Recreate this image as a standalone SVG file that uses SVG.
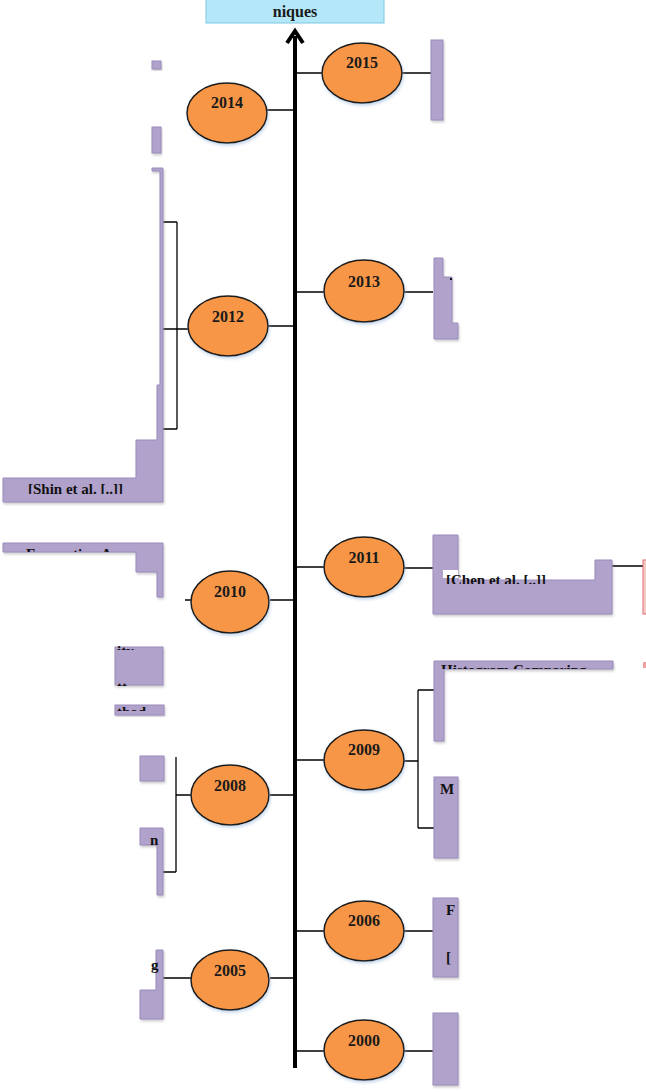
<svg xmlns="http://www.w3.org/2000/svg" width="646" height="1092" viewBox="0 0 646 1092">
<style>
.yr{fill:#f79646;stroke:#1a1a1a;stroke-width:1.5}
.yt{font-family:"Liberation Serif",serif;font-weight:bold;font-size:16px;fill:#1a1a1a;text-anchor:middle}
.pb{fill:#b1a2cb;stroke:#9a8cbc;stroke-width:1}
.ln{stroke:#000;stroke-width:1.3;fill:none}
.ft{font-family:"Liberation Serif",serif;font-weight:bold;font-size:15px;fill:#111}
</style>
<defs>
<filter id="sh" x="-20%" y="-20%" width="140%" height="140%">
<feDropShadow dx="1" dy="2" stdDeviation="1.5" flood-color="#8fb0d8" flood-opacity="0.5"/>
</filter>
<filter id="sp" x="-20%" y="-20%" width="140%" height="140%">
<feDropShadow dx="1" dy="2" stdDeviation="1.2" flood-color="#888" flood-opacity="0.4"/>
</filter>
<clipPath id="c1"><rect x="0" y="543" width="170" height="9"/></clipPath>
<clipPath id="c2"><rect x="430" y="661" width="190" height="8"/></clipPath>
<clipPath id="c3"><rect x="440" y="570" width="160" height="14"/></clipPath>
<clipPath id="c4"><rect x="0" y="484" width="170" height="10"/></clipPath>
<clipPath id="c5"><rect x="100" y="640" width="70" height="10"/><rect x="100" y="680" width="70" height="6"/><rect x="100" y="705" width="70" height="6"/></clipPath>
</defs>

<g id="title">
<rect x="206" y="-4" width="178" height="27" fill="#b4e8f8" stroke="#7fc7e2" stroke-width="1"/>
<text x="295" y="17" class="yt" font-size="17">niques</text>
</g>

<g id="connectors">
<line x1="295" y1="36" x2="295" y2="1068" stroke="#000" stroke-width="4"/>
<polyline points="287,43 295,31 303,43" fill="none" stroke="#000" stroke-width="4"/>
<path class="ln" d="M295,110H267 M295,73H323 M402,73H431"/>
<path class="ln" d="M295,292H324 M404,292H433"/>
<path class="ln" d="M295,326H268 M189,329H162 M177,222V429 M162,222H177 M162,429H177"/>
<path class="ln" d="M295,567H325 M404,568H433 M612,566H643"/>
<path class="ln" d="M295,600H270 M191,600H185"/>
<path class="ln" d="M295,760H325 M404,761H418 M418,690V828 M418,690H434 M418,828H434"/>
<path class="ln" d="M295,795H270 M191,795H176 M176,757V872 M176,872H163"/>
<path class="ln" d="M295,931H325 M404,931H433"/>
<path class="ln" d="M297,978H270 M191,978H161"/>
<path class="ln" d="M295,1051H325 M404,1051H433"/>
</g>

<g id="box2015"><rect class="pb" filter="url(#sp)" x="431" y="40" width="12" height="80"/></g>
<g id="box2014">
<rect class="pb" filter="url(#sp)" x="152" y="61" width="9" height="8"/>
<rect class="pb" filter="url(#sp)" x="152" y="127" width="9" height="26"/>
</g>
<g id="box2013">
<polygon class="pb" filter="url(#sp)" points="434,258 443,258 443,277 452,277 452,323 458,323 458,339 434,339"/>
<rect x="450" y="278" width="2" height="2" fill="#111"/>
</g>
<g id="box2012">
<polygon class="pb" filter="url(#sp)" points="152,168 163,168 163,502 3,502 3,478 136,478 136,440 157,440 157,385 160,385 160,171 152,171"/>
<text x="28" y="494" class="ft" font-size="13" clip-path="url(#c4)">[Shin et al. [..]]</text>
</g>
<g id="box2011">
<polygon class="pb" filter="url(#sp)" points="433,535 458,535 458,580 595,580 595,560 612,560 612,614 433,614"/>
<rect x="443" y="570" width="15" height="8" fill="#fff"/>
<text x="446" y="585" class="ft" font-size="13" clip-path="url(#c3)">[Chen et al. [..]]</text>
<rect x="643" y="560" width="4" height="54" fill="#f6c9c9" stroke="#e07070" stroke-width="1"/>
<rect x="643" y="662" width="3" height="6" fill="#f0a0a0"/>
</g>
<g id="box2010">
<polygon class="pb" filter="url(#sp)" points="3,543 163,543 163,597 157,597 157,572 136,572 136,552 3,552"/>
<text x="26" y="559" class="ft" clip-path="url(#c1)">Fac motion An</text>
<rect class="pb" filter="url(#sp)" x="115" y="647" width="48" height="38"/>
<text x="117" y="656" class="ft" font-size="13" clip-path="url(#c5)">ity</text>
<text x="117" y="692" class="ft" font-size="13" clip-path="url(#c5)">tt</text>
<rect class="pb" filter="url(#sp)" x="115" y="705" width="49" height="10"/>
<text x="117" y="717" class="ft" font-size="13" clip-path="url(#c5)">thod</text>
<rect class="pb" filter="url(#sp)" x="140" y="756" width="24" height="25"/>
</g>
<g id="box2009">
<polygon class="pb" filter="url(#sp)" points="434,661 613,661 613,669 444,669 444,741 434,741"/>
<text x="441" y="675" class="ft" clip-path="url(#c2)">Histogram Comparing</text>
<rect class="pb" filter="url(#sp)" x="434" y="777" width="24" height="81"/>
<text x="440" y="794" class="ft" font-size="13">M</text>
</g>
<g id="box2008">
<polygon class="pb" filter="url(#sp)" points="140,828 163,828 163,895 157,895 157,845 140,845"/>
<text x="150" y="845" class="ft" font-size="12">n</text>
</g>
<g id="box2006">
<rect class="pb" filter="url(#sp)" x="433" y="898" width="25" height="79"/>
<text x="446" y="915" class="ft" font-size="13">F</text>
<text x="446" y="962" class="ft" font-size="13">[</text>
</g>
<g id="box2005">
<polygon class="pb" filter="url(#sp)" points="156,950 163,950 163,1019 140,1019 140,990 156,990"/>
<text x="151" y="970" class="ft" font-size="13">g</text>
</g>
<g id="box2000"><rect class="pb" filter="url(#sp)" x="433" y="1013" width="25" height="72"/></g>

<g id="y2015"><ellipse class="yr" filter="url(#sh)" cx="362" cy="73" rx="40" ry="30"/><text class="yt" x="362" y="68">2015</text></g>
<g id="y2014"><ellipse class="yr" filter="url(#sh)" cx="227" cy="113" rx="40" ry="30"/><text class="yt" x="227" y="108">2014</text></g>
<g id="y2013"><ellipse class="yr" filter="url(#sh)" cx="364" cy="291" rx="40" ry="31"/><text class="yt" x="364" y="287">2013</text></g>
<g id="y2012"><ellipse class="yr" filter="url(#sh)" cx="228" cy="326" rx="40" ry="30"/><text class="yt" x="228" y="322">2012</text></g>
<g id="y2011"><ellipse class="yr" filter="url(#sh)" cx="364" cy="567" rx="40" ry="30"/><text class="yt" x="364" y="563">2011</text></g>
<g id="y2010"><ellipse class="yr" filter="url(#sh)" cx="230" cy="602" rx="39" ry="31"/><text class="yt" x="230" y="597">2010</text></g>
<g id="y2009"><ellipse class="yr" filter="url(#sh)" cx="364" cy="760" rx="40" ry="30"/><text class="yt" x="364" y="755">2009</text></g>
<g id="y2008"><ellipse class="yr" filter="url(#sh)" cx="230" cy="795" rx="39" ry="30"/><text class="yt" x="230" y="791">2008</text></g>
<g id="y2006"><ellipse class="yr" filter="url(#sh)" cx="364" cy="931" rx="40" ry="30"/><text class="yt" x="364" y="926">2006</text></g>
<g id="y2005"><ellipse class="yr" filter="url(#sh)" cx="230" cy="980" rx="39" ry="30"/><text class="yt" x="230" y="976">2005</text></g>
<g id="y2000"><ellipse class="yr" filter="url(#sh)" cx="364" cy="1050" rx="40" ry="30"/><text class="yt" x="364" y="1046">2000</text></g>
</svg>
